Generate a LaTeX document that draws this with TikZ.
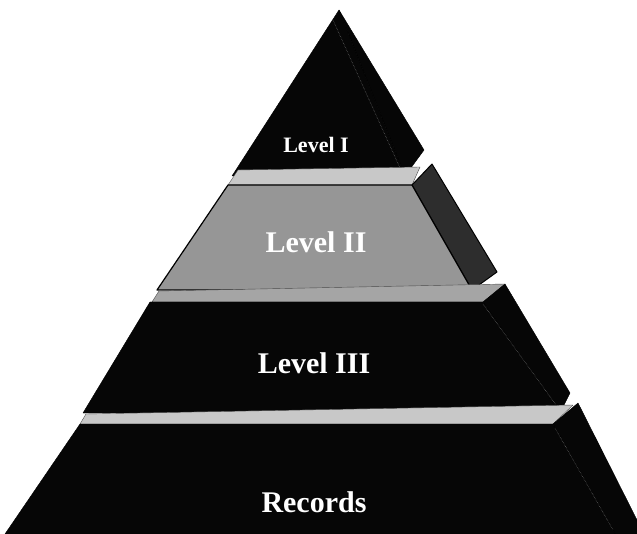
\documentclass[tikz,border=0pt]{standalone}
\usepackage{fontspec}
\setmainfont{Liberation Serif}
\usetikzlibrary{positioning}
\definecolor{FaceDark}{RGB}{6,6,6}
\definecolor{SideDark}{RGB}{45,45,45}
\definecolor{MidGrey}{RGB}{150,150,150}
\definecolor{SlabGrey}{RGB}{200,200,200}
\definecolor{SlabMid}{RGB}{165,165,165}
\tikzset{
  front/.style={fill=FaceDark,draw=black,line join=round},
  side/.style={fill=SideDark,draw=black,line width=1pt,line join=round},
  midface/.style={fill=MidGrey,draw=black,line width=1.2pt,line join=round},
  slab/.style={fill=SlabGrey,draw=black!70,line join=round},
  edge/.style={draw=black!55,line width=0.5pt,densely dotted},
  tierlabel/.style={text=white,font=\bfseries\fontsize{30}{36}\selectfont,inner sep=0pt},
  toplabel/.style={text=white,font=\bfseries\fontsize{22}{26}\selectfont,inner sep=0pt}
}

\begin{document}
\begin{tikzpicture}[x=1pt,y=-1pt]
  \useasboundingbox (0,0) rectangle (637,534);
  % apex piece
  \fill[front] (339,10) -- (424,150) -- (405,176) -- cycle;
  \fill[front] (339,10) -- (232,176) -- (405,176) -- cycle;
  \draw[edge] (333,20) -- (400,168);
  % first slab and level II
  \fill[slab] (228,185) -- (238,170) -- (420,167) -- (412,185) -- cycle;
  \fill[side] (412,185) -- (432,164) -- (497,272) -- (472,290) -- cycle;
  \fill[midface] (228,185) -- (412,185) -- (472,290) -- (157,290) -- cycle;
  % second slab and level III
  \fill[slab,fill=SlabMid] (152,302) -- (159,291) -- (505,284) -- (483,302) -- cycle;
  \fill[front] (483,302) -- (505,284) -- (570,393) -- (560,413) -- cycle;
  \fill[front] (150,302) -- (483,302) -- (560,413) -- (83,413) -- cycle;
  \draw[edge] (483,304) -- (556,405);
  % third slab and records
  \fill[slab] (80,424) -- (86,414) -- (573,405) -- (553,424) -- cycle;
  \fill[front] (553,424) -- (578,403) -- (637,520) -- (637,534) -- (615,534) -- cycle;
  \fill[front] (80,424) -- (553,424) -- (615,534) -- (5,534) -- cycle;
  \draw[edge] (555,428) -- (613,530);
  % labels
  \node[toplabel] (lvlone) at (316,145) {Level I};
  \node[tierlabel] (lvltwo) at (316,242) {Level II};
  \node[tierlabel] (lvlthree) at (314,363) {Level III};
  \node[tierlabel] (records) at (314,502) {Records};
\end{tikzpicture}
\end{document}
